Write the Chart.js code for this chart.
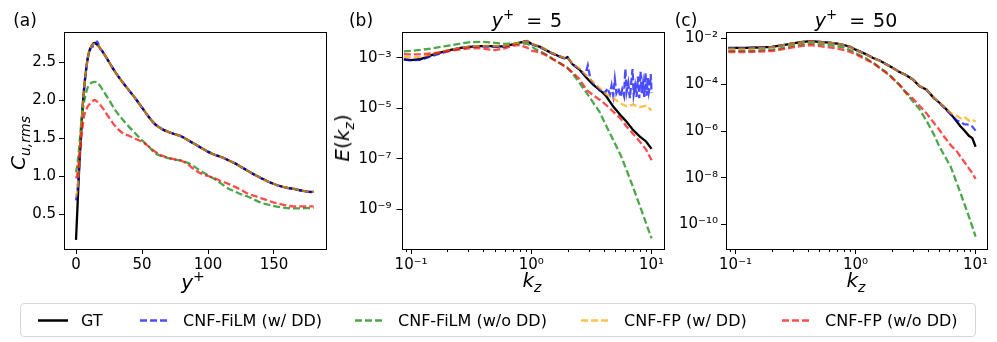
<!DOCTYPE html>
<html>
<head>
<meta charset="utf-8">
<script src="https://cdn.jsdelivr.net/npm/chart.js@4.4.1/dist/chart.umd.min.js"></script>
<style>
  html, body { margin: 0; padding: 0; background: #fff; }
  #wrap { position: relative; width: 997px; height: 342px; overflow: hidden; font-family: "DejaVu Sans", sans-serif; color: #000; }
  canvas { position: absolute; left: 0; top: 0; }
  .lbl { position: absolute; transform: translate(-50%, -50%); white-space: nowrap; font-size: 17px; line-height: 1; }
  .math { font-size: 20px; }
  .rot { transform: translate(-50%, -50%) rotate(-90deg); }
  .lbl sup, .lbl sub { font-size: 70%; line-height: 0; }
  .eq { margin: 0 8px 0 12px; }
  .legend { position: absolute; left: 20px; top: 303px; width: 956px; height: 34px; border: 1px solid #d6d6d6; border-radius: 4px; box-sizing: border-box; }
  .item { position: absolute; top: 16px; transform: translateY(-50%); display: flex; align-items: center; font-size: 16px; white-space: nowrap; }
  .item svg { margin-right: 13px; }
</style>
</head>
<body>
<div id="wrap">
  <canvas id="chartA" width="997" height="342"></canvas>
  <canvas id="chartB" width="997" height="342"></canvas>
  <canvas id="chartC" width="997" height="342"></canvas>

  <div class="lbl" style="left:25px;top:20px">(a)</div>
  <div class="lbl" style="left:361px;top:20px">(b)</div>
  <div class="lbl" style="left:686px;top:20px">(c)</div>
  <div class="lbl" style="left:527px;top:20px;font-size:19px"><i>y</i><sup>+</sup><span class="eq">=</span>5</div>
  <div class="lbl" style="left:856px;top:20px;font-size:19px"><i>y</i><sup>+</sup><span class="eq">=</span>50</div>

  <div class="lbl rot math" style="left:18px;top:143px"><i>C</i><sub><i>u,rms</i></sub></div>
  <div class="lbl rot math" style="left:342px;top:138px"><i>E</i>(<i>k</i><sub><i>z</i></sub>)</div>
  <div class="lbl math" style="left:193px;top:282px"><i>y</i><sup>+</sup></div>
  <div class="lbl math" style="left:532px;top:280px"><i>k</i><sub><i>z</i></sub></div>
  <div class="lbl math" style="left:856px;top:280px"><i>k</i><sub><i>z</i></sub></div>

  <div class="legend">
    <div class="item" style="left:17px"><svg width="30" height="4"><line x1="0" y1="2" x2="30" y2="2" stroke="#000" stroke-width="2.3"/></svg><span>GT</span></div>
    <div class="item" style="left:119px"><svg width="30" height="4"><line x1="0" y1="2" x2="30" y2="2" stroke="rgba(0,0,255,0.7)" stroke-width="2.3" stroke-dasharray="7 3"/></svg><span>CNF-FiLM (w/ DD)</span></div>
    <div class="item" style="left:334px"><svg width="30" height="4"><line x1="0" y1="2" x2="30" y2="2" stroke="rgba(0,128,0,0.7)" stroke-width="2.3" stroke-dasharray="7 3"/></svg><span>CNF-FiLM (w/o DD)</span></div>
    <div class="item" style="left:560px"><svg width="30" height="4"><line x1="0" y1="2" x2="30" y2="2" stroke="rgba(255,165,0,0.7)" stroke-width="2.3" stroke-dasharray="7 3"/></svg><span>CNF-FP (w/ DD)</span></div>
    <div class="item" style="left:761px"><svg width="30" height="4"><line x1="0" y1="2" x2="30" y2="2" stroke="rgba(255,0,0,0.7)" stroke-width="2.3" stroke-dasharray="7 3"/></svg><span>CNF-FP (w/o DD)</span></div>
  </div>
</div>

<script>
// ---- panel (a): C_u,rms vs y+
const yPlus = [0,1,2,3,4,5,6,7,8,9,10,12,14,16,18,20,25,30,35,40,45,50,55,60,65,70,75,80,85,90,95,100,105,110,115,120,125,130,135,140,145,150,155,160,165,170,175,180];
const gtA = [0.16,0.55,0.95,1.3,1.62,1.9,2.13,2.3,2.45,2.56,2.64,2.72,2.75,2.73,2.69,2.64,2.5,2.36,2.24,2.13,2.02,1.9,1.78,1.68,1.62,1.58,1.55,1.52,1.47,1.42,1.37,1.32,1.28,1.25,1.21,1.17,1.12,1.07,1.02,0.975,0.93,0.895,0.865,0.845,0.83,0.81,0.795,0.79];
const filmDdA = [0.68,0.8,1.02,1.33,1.63,1.9,2.12,2.3,2.45,2.56,2.63,2.7,2.71,2.77,2.68,2.64,2.5,2.36,2.24,2.13,2.02,1.9,1.78,1.68,1.62,1.58,1.55,1.52,1.47,1.42,1.37,1.32,1.28,1.25,1.21,1.17,1.12,1.07,1.02,0.975,0.93,0.895,0.865,0.845,0.83,0.81,0.795,0.785];
const filmA = [1.05,1.15,1.3,1.5,1.7,1.85,1.96,2.05,2.12,2.17,2.2,2.23,2.24,2.23,2.19,2.14,2.0,1.86,1.75,1.65,1.56,1.47,1.39,1.3,1.26,1.235,1.215,1.2,1.17,1.12,1.06,1.01,0.96,0.9,0.84,0.8,0.76,0.73,0.69,0.65,0.625,0.605,0.59,0.578,0.575,0.575,0.578,0.58];
const fpDdA = [0.72,0.82,1.05,1.36,1.65,1.91,2.13,2.3,2.45,2.56,2.64,2.72,2.74,2.73,2.69,2.64,2.5,2.36,2.24,2.13,2.02,1.9,1.78,1.68,1.62,1.58,1.55,1.52,1.47,1.42,1.37,1.32,1.28,1.25,1.21,1.17,1.12,1.07,1.02,0.975,0.93,0.895,0.865,0.845,0.83,0.81,0.795,0.79];
const fpA = [0.97,1.02,1.15,1.32,1.5,1.65,1.78,1.84,1.88,1.92,1.94,1.98,2.0,1.98,1.94,1.9,1.77,1.65,1.57,1.53,1.49,1.45,1.39,1.32,1.27,1.24,1.22,1.2,1.15,1.08,1.03,1.0,0.97,0.93,0.9,0.86,0.82,0.77,0.74,0.71,0.68,0.65,0.63,0.61,0.6,0.6,0.6,0.6];

// ---- panel (b): spectrum at y+ = 5
const kzB = [0.087,0.1,0.12,0.15,0.2,0.25,0.3,0.38,0.45,0.5,0.6,0.7,0.8,0.92,1.0,1.1,1.2,1.35,1.5,1.7,1.9,2.0,2.2,2.5,2.9,3.3,3.7,4.2,4.8,5.5,6.2,7.0,8.0,9.0,10.0];
const gtB = [8.7e-4,8.1e-4,8.9e-4,1.29e-3,1.91e-3,2.4e-3,2.69e-3,2.88e-3,2.88e-3,2.82e-3,2.82e-3,3.39e-3,3.98e-3,4.57e-3,3.55e-3,3.02e-3,2.63e-3,1.91e-3,1.48e-3,1.15e-3,9.5e-4,1.05e-3,5.5e-4,3.47e-4,1.55e-4,8.3e-5,5.4e-5,3.0e-5,1.17e-5,5.4e-6,2.95e-6,1.41e-6,7.6e-7,4.9e-7,2.5e-7];
const filmB = [1.78e-3,1.86e-3,2.04e-3,2.34e-3,2.95e-3,3.55e-3,4.07e-3,4.27e-3,4.07e-3,3.9e-3,3.55e-3,3.63e-3,3.7e-3,3.55e-3,2.82e-3,2.09e-3,1.74e-3,1.29e-3,9.1e-4,6.3e-4,4.7e-4,4.0e-4,2.4e-4,1.05e-4,3.9e-5,1.58e-5,7.1e-6,2.0e-6,5.6e-7,1.51e-7,3.6e-8,7.9e-9,1.38e-9,2.9e-10,7.2e-11];
const fpDdB = [1.07e-3,1.02e-3,1.07e-3,1.38e-3,1.91e-3,2.4e-3,2.75e-3,2.95e-3,3.0e-3,2.95e-3,2.95e-3,3.47e-3,3.98e-3,4.47e-3,3.63e-3,3.1e-3,2.69e-3,2.0e-3,1.51e-3,1.17e-3,9.8e-4,1.05e-3,5.75e-4,3.8e-4,1.9e-4,1.05e-4,6.3e-5,3.55e-5,2.5e-5,1.58e-5,1.2e-5,1.41e-5,1.12e-5,1.26e-5,8.3e-6];
const fpB = [1.38e-3,1.35e-3,1.38e-3,1.48e-3,1.78e-3,2.09e-3,2.34e-3,2.4e-3,2.09e-3,2.0e-3,2.34e-3,3.02e-3,3.16e-3,2.51e-3,1.91e-3,1.74e-3,1.55e-3,1.2e-3,8.9e-4,6.3e-4,4.5e-4,3.8e-4,2.63e-4,1.48e-4,5.2e-5,3.16e-5,2.19e-5,1.35e-5,7.4e-6,4.0e-6,1.9e-6,1.0e-6,4.8e-7,2.34e-7,8.9e-8];
// the FiLM (w/ DD) curve is noisy at high kz, so it has its own denser kz list
const kzFilmDdB = [0.087,0.1,0.12,0.15,0.2,0.25,0.3,0.38,0.45,0.5,0.6,0.7,0.8,0.92,1.0,1.1,1.2,1.35,1.5,1.7,1.9,2.0,2.2,2.5,2.8,2.95,3.1,3.3,3.5,3.7,3.9,4.1,4.3,4.5,4.65,4.8,4.95,5.1,5.3,5.5,5.7,5.9,6.05,6.2,6.4,6.6,6.8,6.95,7.1,7.3,7.5,7.7,7.9,8.1,8.3,8.5,8.7,8.9,9.1,9.3,9.5,9.7,9.85,10.0];
const filmDdB = [8.5e-4,7.9e-4,8.3e-4,1.17e-3,1.78e-3,2.34e-3,2.69e-3,2.82e-3,2.75e-3,2.75e-3,2.75e-3,3.3e-3,3.9e-3,4.47e-3,3.47e-3,2.95e-3,2.51e-3,1.91e-3,1.45e-3,1.12e-3,9.3e-4,1.02e-3,5.6e-4,3.55e-4,2.0e-4,5.0e-4,1.41e-4,8.9e-5,7.1e-5,5.0e-5,5.6e-5,4.0e-5,6.3e-5,3.55e-5,7.9e-5,3.16e-5,1.41e-4,4.0e-5,6.3e-5,2.82e-5,5.6e-5,3.16e-5,3.55e-4,4.5e-5,1.0e-4,2.51e-5,1.26e-4,3.55e-4,3.55e-5,7.9e-5,2.82e-5,1.78e-4,2.51e-5,2.82e-4,4.0e-5,1.0e-4,2.82e-5,2.51e-4,3.16e-5,1.58e-4,4.5e-5,7.9e-5,2.24e-4,4.0e-5];

// ---- panel (c): spectrum at y+ = 50
const kzC = [0.087,0.1,0.12,0.15,0.2,0.25,0.3,0.35,0.42,0.5,0.6,0.7,0.8,0.9,1.0,1.2,1.4,1.6,1.8,2.0,2.3,2.6,3.0,3.4,3.9,4.5,5.0,5.5,6.2,7.0,7.5,8.0,8.8,9.4,10.0];
const gtC = [3.8e-3,3.8e-3,3.8e-3,3.9e-3,4.17e-3,5.0e-3,5.9e-3,6.6e-3,7.4e-3,6.8e-3,6.3e-3,5.75e-3,5.0e-3,4.17e-3,3.16e-3,2.09e-3,1.38e-3,1.05e-3,7.4e-4,5.5e-4,3.55e-4,2.63e-4,1.66e-4,8.7e-5,6.0e-5,2.63e-5,1.66e-5,1.05e-5,5.6e-6,2.51e-6,1.58e-6,1.12e-6,6.3e-7,5.0e-7,2.14e-7];
const filmDdC = [3.63e-3,3.63e-3,3.63e-3,3.8e-3,4.07e-3,5.0e-3,5.9e-3,6.6e-3,7.4e-3,6.8e-3,6.3e-3,5.75e-3,5.0e-3,4.17e-3,3.16e-3,2.09e-3,1.38e-3,1.05e-3,7.4e-4,5.5e-4,3.55e-4,2.63e-4,1.66e-4,8.7e-5,6.0e-5,2.63e-5,1.66e-5,1.0e-5,5.2e-6,2.82e-6,2.51e-6,2.0e-6,1.9e-6,1.58e-6,1.05e-6];
const filmC = [2.82e-3,2.82e-3,2.82e-3,2.88e-3,3.1e-3,3.8e-3,4.68e-3,5.4e-3,6.0e-3,5.5e-3,5.0e-3,4.47e-3,3.9e-3,3.02e-3,2.29e-3,1.41e-3,8.7e-4,5.2e-4,3.4e-4,2.09e-4,1.0e-4,4.7e-5,1.9e-5,8.9e-6,2.8e-6,7.1e-7,2.14e-7,8.9e-8,3.0e-8,5.6e-9,2.14e-9,8.5e-10,2.14e-10,7.8e-11,2.95e-11];
const fpDdC = [3.47e-3,3.47e-3,3.47e-3,3.7e-3,4.0e-3,4.9e-3,5.8e-3,6.5e-3,7.2e-3,6.7e-3,6.2e-3,5.7e-3,4.95e-3,4.1e-3,3.1e-3,2.07e-3,1.38e-3,1.05e-3,7.4e-4,5.5e-4,3.55e-4,2.63e-4,1.66e-4,8.9e-5,6.0e-5,2.7e-5,1.7e-5,1.07e-5,6.0e-6,4.5e-6,3.55e-6,4.2e-6,2.82e-6,3.16e-6,2.51e-6];
const fpC = [2.51e-3,2.51e-3,2.51e-3,2.57e-3,2.75e-3,3.3e-3,3.98e-3,4.47e-3,5.0e-3,4.47e-3,3.98e-3,3.55e-3,3.02e-3,2.51e-3,2.0e-3,1.26e-3,8.3e-4,5.0e-4,3.16e-4,2.0e-4,1.05e-4,5.0e-5,2.51e-5,1.26e-5,5.8e-6,2.24e-6,1.12e-6,5.6e-7,2.51e-7,1.32e-7,7.9e-8,5.0e-8,2.51e-8,1.58e-8,8.9e-9];

// tick positions
const ticksAx = [0, 50, 100, 150];
const ticksAy = [0.5, 1.0, 1.5, 2.0, 2.5];
const ticksKz = [0.1, 1, 10];
const minorKz = [0.09, 0.2, 0.3, 0.4, 0.5, 0.6, 0.7, 0.8, 0.9, 2, 3, 4, 5, 6, 7, 8, 9];
const ticksBy = [1e-9, 1e-7, 1e-5, 1e-3];
const ticksCy = [1e-10, 1e-8, 1e-6, 1e-4, 1e-2];

const FONT = '"DejaVu Sans", sans-serif';
const SUP = { '0':'⁰','1':'¹','2':'²','3':'³','4':'⁴','5':'⁵','6':'⁶','7':'⁷','8':'⁸','9':'⁹','-':'⁻' };
const powLabel = v => '10' + String(Math.round(Math.log10(v))).split('').map(c => SUP[c]).join('');

// legend order = draw order reversed (GT at the bottom, FP w/o DD on top)
const styles = {
  gt:     { label: 'GT',                 color: '#000',                 dash: [],     order: 5 },
  filmDd: { label: 'CNF-FiLM (w/ DD)',   color: 'rgba(0,0,255,0.7)',    dash: [7, 3], order: 4 },
  film:   { label: 'CNF-FiLM (w/o DD)',  color: 'rgba(0,128,0,0.7)',    dash: [7, 3], order: 3 },
  fpDd:   { label: 'CNF-FP (w/ DD)',     color: 'rgba(255,165,0,0.7)',  dash: [7, 3], order: 2 },
  fp:     { label: 'CNF-FP (w/o DD)',    color: 'rgba(255,0,0,0.7)',    dash: [7, 3], order: 1 },
};

function series(key, xs, ys, smooth) {
  const s = styles[key];
  return {
    label: s.label,
    data: xs.map((x, i) => ({ x: x, y: ys[i] })),
    borderColor: s.color,
    borderDash: s.dash,
    borderWidth: 2.3,
    order: s.order,
    pointRadius: 0,
    fill: false,
    tension: smooth ? 0.4 : 0,
    cubicInterpolationMode: smooth ? 'monotone' : 'default',
  };
}

function axis(type, min, max, tickVals, fmt, size, isX, pad) {
  return {
    type: type,
    min: min,
    max: max,
    bounds: 'data',
    afterBuildTicks: s => { s.ticks = tickVals.map(v => ({ value: v })); },
    afterFit: s => { if (isX) s.height = size; else s.width = size; },
    ticks: { callback: v => fmt(v), autoSkip: false, maxRotation: 0, padding: pad, color: '#000', font: { family: FONT, size: 15 } },
    grid: { drawOnChartArea: false, drawTicks: true, tickLength: 5, color: '#000', lineWidth: 1 },
    border: { display: false },
  };
}

// box around the axes + short minor ticks on the log kz axis
const frame = {
  id: 'frame',
  afterDraw(chart, args, opts) {
    const { ctx, chartArea: a } = chart;
    ctx.save();
    ctx.strokeStyle = '#000';
    ctx.lineWidth = 1;
    ctx.strokeRect(Math.round(a.left) + 0.5, Math.round(a.top) + 0.5, Math.round(a.right - a.left), Math.round(a.bottom - a.top));
    if (opts.minor) {
      const sx = chart.scales.x;
      ctx.beginPath();
      opts.minor.forEach(v => {
        const px = Math.round(sx.getPixelForValue(v)) + 0.5;
        ctx.moveTo(px, a.bottom);
        ctx.lineTo(px, a.bottom + 3);
      });
      ctx.stroke();
    }
    ctx.restore();
  }
};

function makeChart(id, datasets, xOpt, yOpt, padding, minor) {
  return new Chart(document.getElementById(id), {
    type: 'line',
    data: { datasets: datasets },
    options: {
      responsive: false,
      animation: false,
      devicePixelRatio: 1,
      layout: { padding: padding },
      plugins: { legend: { display: false }, tooltip: { enabled: false }, frame: { minor: minor } },
      scales: { x: xOpt, y: yOpt },
    },
    plugins: [frame],
  });
}

makeChart('chartA', [
    series('gt', yPlus, gtA, true),
    series('filmDd', yPlus, filmDdA, true),
    series('film', yPlus, filmA, true),
    series('fpDd', yPlus, fpDdA, true),
    series('fp', yPlus, fpA, true),
  ],
  axis('linear', -9.1, 189.4, ticksAx, v => String(v), 40, true, 2),
  axis('linear', 0.0395, 2.895, ticksAy, v => v.toFixed(1), 60, false, 3),
  { left: 4, right: 671, top: 32, bottom: 53 }, null);

makeChart('chartB', [
    series('gt', kzB, gtB),
    series('filmDd', kzFilmDdB, filmDdB),
    series('film', kzB, filmB),
    series('fpDd', kzB, fpDdB),
    series('fp', kzB, fpB),
  ],
  axis('logarithmic', 0.0832, 12.45, ticksKz, powLabel, 40, true, 2),
  axis('logarithmic', 2.75e-11, 1.04e-2, ticksBy, powLabel, 70, false, 5),
  { left: 331.5, right: 334, top: 32, bottom: 53 }, minorKz);

makeChart('chartC', [
    series('gt', kzC, gtC),
    series('filmDd', kzC, filmDdC),
    series('film', kzC, filmC),
    series('fpDd', kzC, fpDdC),
    series('fp', kzC, fpC),
  ],
  axis('logarithmic', 0.0832, 12.45, ticksKz, powLabel, 40, true, 2),
  axis('logarithmic', 8.7e-12, 1.81e-2, ticksCy, powLabel, 70, false, 3),
  { left: 656, right: 10, top: 32, bottom: 53 }, minorKz);
</script>
</body>
</html>
